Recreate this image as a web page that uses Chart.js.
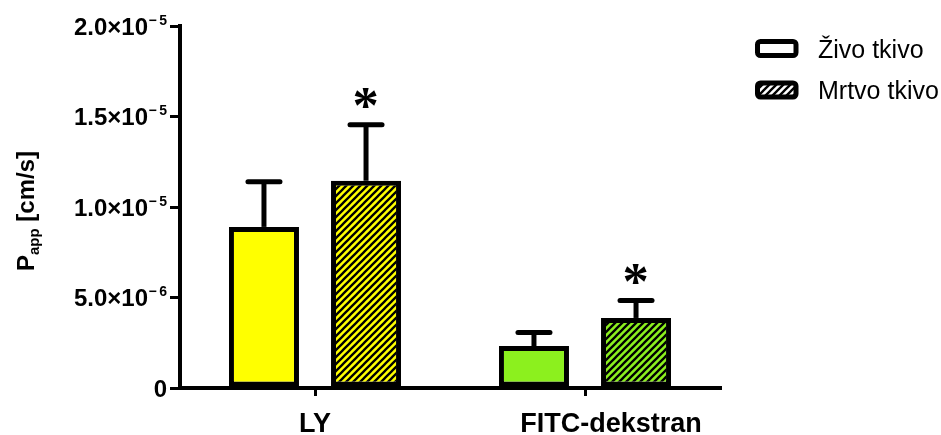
<!DOCTYPE html>
<html>
<head>
<meta charset="utf-8">
<script src="https://cdn.jsdelivr.net/npm/chart.js@4/dist/chart.umd.min.js"></script>
<style>
  html, body { margin: 0; padding: 0; background: #fff; }
  #wrap { width: 941px; height: 435px; }
</style>
</head>
<body>
<div id="wrap"><canvas id="c" width="941" height="435"></canvas></div>
<script>
// Apparent permeability by tissue state
const categories = ['LY', 'FITC-dekstran'];
const seriesNames = ['Živo tkivo', 'Mrtvo tkivo'];
const zivoMean = [8.9e-6, 2.32e-6];
const zivoSD = [2.5e-6, 0.75e-6];
const mrtvoMean = [11.45e-6, 3.87e-6];
const mrtvoSD = [3.1e-6, 0.96e-6];
const zivoMarks = ['', ''];
const mrtvoMarks = ['*', '*'];
const yTickValues = [0, 5e-6, 1e-5, 1.5e-5, 2e-5];
const yTickMantissa = ['0', '5.0×10', '1.0×10', '1.5×10', '2.0×10'];
const yTickExponent = ['', '−6', '−5', '−5', '−5'];

const FONT = '"Liberation Sans", Arial, sans-serif';
const MARK_FONT = 'bold 100px "Liberation Serif", "Times New Roman", serif';
const YELLOW = '#ffff00';
const GREEN = '#8cf01e';
const groupColors = [YELLOW, GREEN];

const canvas = document.getElementById('c');
const ctx = canvas.getContext('2d');

// diagonal "/" hatching on a solid background
function hatch(bg) {
  const s = 7;
  const tile = document.createElement('canvas');
  tile.width = s; tile.height = s;
  const g = tile.getContext('2d');
  g.fillStyle = bg;
  g.fillRect(0, 0, s, s);
  g.strokeStyle = '#000';
  g.lineWidth = 2.3;
  g.beginPath();
  g.moveTo(-1, 1); g.lineTo(1, -1);
  g.moveTo(0, s); g.lineTo(s, 0);
  g.moveTo(s - 1, s + 1); g.lineTo(s + 1, s - 1);
  g.stroke();
  return ctx.createPattern(tile, 'repeat');
}

const errorBars = {
  id: 'errorBars',
  afterDatasetsDraw(chart) {
    const c = chart.ctx;
    const y = chart.scales.y;
    chart.data.datasets.forEach((ds, di) => {
      const meta = chart.getDatasetMeta(di);
      meta.data.forEach((bar, i) => {
        const top = y.getPixelForValue(ds.data[i] + ds.errors[i]);
        c.save();
        c.strokeStyle = '#000';
        c.lineWidth = 5;
        c.beginPath();
        c.moveTo(bar.x, bar.y);
        c.lineTo(bar.x, top);
        c.stroke();
        c.lineCap = 'round';
        c.beginPath();
        c.moveTo(bar.x - 16, top);
        c.lineTo(bar.x + 16, top);
        c.stroke();
        const mark = ds.marks[i];
        if (mark) {
          // scale the glyph so its ink is about 20px tall
          c.font = MARK_FONT;
          const m = c.measureText(mark);
          const h = m.actualBoundingBoxAscent + m.actualBoundingBoxDescent;
          const size = 100 * 20 / h;
          c.font = MARK_FONT.replace('100px', size.toFixed(1) + 'px');
          const m2 = c.measureText(mark);
          const inkMid = (m2.actualBoundingBoxRight - m2.actualBoundingBoxLeft) / 2;
          c.fillStyle = '#000';
          c.textAlign = 'left';
          c.textBaseline = 'alphabetic';
          c.fillText(mark, bar.x - inkMid, top - 17 - m2.actualBoundingBoxDescent);
        }
        c.restore();
      });
    });
  }
};

const axisText = {
  id: 'axisText',
  afterDraw(chart) {
    const c = chart.ctx;
    const y = chart.scales.y;
    const x = chart.scales.x;
    c.save();
    c.fillStyle = '#000';
    c.textBaseline = 'alphabetic';

    // y tick labels with superscript exponents
    const right = y.right - 13;
    yTickValues.forEach((v, i) => {
      const py = y.getPixelForValue(v);
      let mainRight = right;
      const exp = yTickExponent[i];
      if (exp) {
        c.font = 'bold 14px ' + FONT;
        c.textAlign = 'right';
        const digit = exp.slice(1);
        const wd = c.measureText(digit).width;
        c.fillText(digit, right, py - 1.5);
        const sign = exp.slice(0, 1);
        const ws = c.measureText(sign).width;
        c.fillText(sign, right - wd - 2.5, py - 1.5);
        mainRight = right - wd - 2.5 - ws - 0.5;
      }
      c.font = 'bold 24px ' + FONT;
      c.textAlign = 'right';
      c.fillText(yTickMantissa[i], mainRight, py + 8.6);
    });

    // y axis title
    c.save();
    c.translate(34, 211);
    c.rotate(-Math.PI / 2);
    c.textAlign = 'left';
    c.font = 'bold 24px ' + FONT;
    const wP = c.measureText('P').width;
    const wRest = c.measureText(' [cm/s]').width;
    c.font = 'bold 15px ' + FONT;
    const wSub = c.measureText('app').width;
    const sx = -(wP + wSub + wRest) / 2;
    c.font = 'bold 24px ' + FONT;
    c.fillText('P', sx, 0);
    c.font = 'bold 15px ' + FONT;
    c.fillText('app', sx + wP, 5);
    c.font = 'bold 24px ' + FONT;
    c.fillText(' [cm/s]', sx + wP + wSub, 0);
    c.restore();

    // category labels
    const shift = [0, 26];
    c.font = 'bold 27px ' + FONT;
    c.textAlign = 'center';
    categories.forEach((lab, i) => {
      c.fillText(lab, x.getPixelForTick(i) + shift[i], 432);
    });

    // legend
    const boxes = [
      { y: 48.5, fill: '#ffffff' },
      { y: 90, fill: hatch('#ffffff') }
    ];
    seriesNames.forEach((name, i) => {
      const b = boxes[i];
      c.beginPath();
      c.roundRect(757.5, b.y - 7, 38.5, 14, 3);
      c.fillStyle = b.fill;
      c.fill();
      c.lineWidth = 5;
      c.strokeStyle = '#000';
      c.stroke();
      c.fillStyle = '#000';
      c.font = '25px ' + FONT;
      c.textAlign = 'left';
      c.fillText(name, 818, b.y + 9);
    });
    c.restore();
  }
};

new Chart(ctx, {
  type: 'bar',
  data: {
    labels: categories,
    datasets: [
      {
        label: seriesNames[0],
        data: zivoMean,
        errors: zivoSD,
        marks: zivoMarks,
        backgroundColor: groupColors,
        borderColor: '#000',
        borderWidth: 5,
        borderSkipped: false,
        categoryPercentage: 0.756,
        barPercentage: 0.686
      },
      {
        label: seriesNames[1],
        data: mrtvoMean,
        errors: mrtvoSD,
        marks: mrtvoMarks,
        backgroundColor: groupColors.map(hatch),
        borderColor: '#000',
        borderWidth: 5,
        borderSkipped: false,
        categoryPercentage: 0.756,
        barPercentage: 0.686
      }
    ]
  },
  options: {
    responsive: false,
    animation: false,
    layout: { padding: { top: 26, right: 221, left: 0, bottom: 0 } },
    plugins: { legend: { display: false }, tooltip: { enabled: false } },
    scales: {
      x: {
        offset: true,
        grid: { display: true, offset: false, drawOnChartArea: false, drawTicks: true, tickLength: 8, lineWidth: 3, color: '#000' },
        border: { display: true, width: 4, color: '#000' },
        ticks: { display: false },
        afterFit(s) { s.height = 47; }
      },
      y: {
        min: 0,
        max: 2e-5,
        afterBuildTicks(s) { s.ticks = yTickValues.map(v => ({ value: v })); },
        grid: { display: true, drawOnChartArea: false, drawTicks: true, tickLength: 10, lineWidth: 3, color: '#000' },
        border: { display: true, width: 4, color: '#000' },
        ticks: { display: false },
        afterFit(s) { s.width = 180; }
      }
    }
  },
  plugins: [errorBars, axisText]
});
</script>
</body>
</html>
